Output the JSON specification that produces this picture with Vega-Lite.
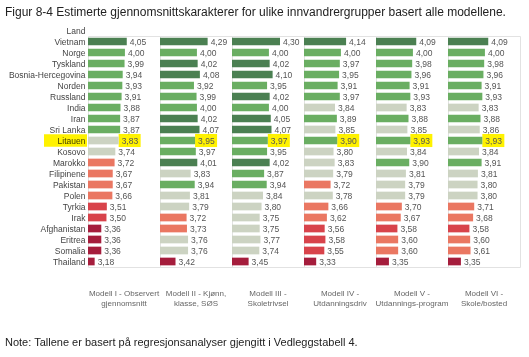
{
  "$schema": "https://vega.github.io/schema/vega-lite/v6.json",
  "padding": {"left": 5, "top": 6, "right": 5, "bottom": 3},
  "background": "white",
  "title": {"text": "Figur 8-4 Estimerte gjennomsnittskarakterer for ulike innvandrergrupper basert alle modellene.", "anchor": "start", "font": "Liberation Sans", "fontSize": 12, "fontWeight": "normal", "color": "#222", "offset": 7},
  "spacing": 29,
  "vconcat": [
    {
      "data": {"values": [
        {"Land": "Vietnam", "I": 4.05, "II": 4.29, "III": 4.30, "IV": 4.14, "V": 4.09, "VI": 4.09},
        {"Land": "Norge", "I": 4.00, "II": 4.00, "III": 4.00, "IV": 4.00, "V": 4.00, "VI": 4.00},
        {"Land": "Tyskland", "I": 3.99, "II": 4.02, "III": 4.02, "IV": 3.97, "V": 3.98, "VI": 3.98},
        {"Land": "Bosnia-Hercegovina", "I": 3.94, "II": 4.08, "III": 4.10, "IV": 3.95, "V": 3.96, "VI": 3.96},
        {"Land": "Norden", "I": 3.93, "II": 3.92, "III": 3.95, "IV": 3.91, "V": 3.91, "VI": 3.91},
        {"Land": "Russland", "I": 3.91, "II": 3.99, "III": 4.02, "IV": 3.97, "V": 3.93, "VI": 3.93},
        {"Land": "India", "I": 3.88, "II": 4.00, "III": 4.00, "IV": 3.84, "V": 3.83, "VI": 3.83},
        {"Land": "Iran", "I": 3.87, "II": 4.02, "III": 4.05, "IV": 3.89, "V": 3.88, "VI": 3.88},
        {"Land": "Sri Lanka", "I": 3.87, "II": 4.07, "III": 4.07, "IV": 3.85, "V": 3.85, "VI": 3.86},
        {"Land": "Litauen", "I": 3.83, "II": 3.95, "III": 3.97, "IV": 3.90, "V": 3.93, "VI": 3.93},
        {"Land": "Kosovo", "I": 3.74, "II": 3.97, "III": 3.95, "IV": 3.80, "V": 3.84, "VI": 3.84},
        {"Land": "Marokko", "I": 3.72, "II": 4.01, "III": 4.02, "IV": 3.83, "V": 3.90, "VI": 3.91},
        {"Land": "Filipinene", "I": 3.67, "II": 3.83, "III": 3.87, "IV": 3.79, "V": 3.81, "VI": 3.81},
        {"Land": "Pakistan", "I": 3.67, "II": 3.94, "III": 3.94, "IV": 3.72, "V": 3.79, "VI": 3.80},
        {"Land": "Polen", "I": 3.66, "II": 3.81, "III": 3.84, "IV": 3.78, "V": 3.79, "VI": 3.80},
        {"Land": "Tyrkia", "I": 3.51, "II": 3.79, "III": 3.80, "IV": 3.66, "V": 3.70, "VI": 3.71},
        {"Land": "Irak", "I": 3.50, "II": 3.72, "III": 3.75, "IV": 3.62, "V": 3.67, "VI": 3.68},
        {"Land": "Afghanistan", "I": 3.36, "II": 3.73, "III": 3.75, "IV": 3.56, "V": 3.58, "VI": 3.58},
        {"Land": "Eritrea", "I": 3.36, "II": 3.76, "III": 3.77, "IV": 3.58, "V": 3.60, "VI": 3.60},
        {"Land": "Somalia", "I": 3.36, "II": 3.76, "III": 3.74, "IV": 3.55, "V": 3.60, "VI": 3.61},
        {"Land": "Thailand", "I": 3.18, "II": 3.42, "III": 3.45, "IV": 3.33, "V": 3.35, "VI": 3.35}
      ]},
      "transform": [{"fold": ["I", "II", "III", "IV", "V", "VI"], "as": ["Modell", "v"]}],
      "bounds": "flush",
      "spacing": 0,
      "facet": {
        "column": {
          "field": "Modell", "type": "nominal", "title": null,
          "sort": ["I", "II", "III", "IV", "V", "VI"],
          "header": {
            "labelOrient": "bottom", "labelPadding": 23, "labelFontSize": 8, "labelColor": "#666",
            "labelFont": "Liberation Sans", "labelLineHeight": 10,
            "labelExpr": "{'I': ['Modell I - Observert', 'gjennomsnitt'], 'II': ['Modell II - Kjønn,', 'klasse, SØS'], 'III': ['Modell III -', 'Skoletrivsel'], 'IV': ['Modell IV -', 'Utdanningsdriv'], 'V': ['Modell V -', 'Utdannings-program'], 'VI': ['Modell VI -', 'Skole/bosted']}[datum.value]"
          }
        }
      },
      "spec": {
        "width": 72,
        "height": 231,
        "encoding": {
          "y": {
            "field": "Land", "type": "nominal",
            "sort": ["Vietnam", "Norge", "Tyskland", "Bosnia-Hercegovina", "Norden", "Russland", "India", "Iran", "Sri Lanka", "Litauen", "Kosovo", "Marokko", "Filipinene", "Pakistan", "Polen", "Tyrkia", "Irak", "Afghanistan", "Eritrea", "Somalia", "Thailand"],
            "scale": {"paddingInner": 0.3, "paddingOuter": 0.15},
            "axis": {
              "title": "Land", "titleAngle": 0, "titleAlign": "right", "titleBaseline": "bottom",
              "titleX": -3, "titleY": -1, "titleFontWeight": "normal", "titleFontSize": 8.5, "titleColor": "#444",
              "titleFont": "Liberation Sans",
              "labelFontSize": 8.5, "labelColor": "#444", "labelFont": "Liberation Sans",
              "ticks": false, "domain": false, "labelPadding": 3, "zindex": 1
            }
          }
        },
        "layer": [
          {
            "transform": [{"filter": "datum.Land == 'Litauen' && datum.Modell == 'I'"}],
            "mark": {"type": "rect", "color": "#fff200", "xOffset": -44, "x2Offset": -1, "height": {"band": 1.6}, "blend": "multiply"},
            "encoding": {
              "x": {"datum": 3, "type": "quantitative", "scale": {"domain": [3, 4.95], "zero": false, "nice": false}, "axis": null},
              "x2": {"datum": 3}
            }
          },
          {
            "transform": [{"filter": "datum.Land == 'Litauen'"}],
            "mark": {"type": "rect", "color": "#fff200", "xOffset": 0, "x2Offset": 22, "height": {"band": 1.7}},
            "encoding": {
              "x": {"field": "v", "type": "quantitative", "scale": {"domain": [3, 4.95], "zero": false, "nice": false}, "axis": null},
              "x2": {"field": "v"}
            }
          },
          {
            "mark": {"type": "bar"},
            "encoding": {
              "x": {"field": "v", "type": "quantitative", "scale": {"domain": [3, 4.95], "zero": false, "nice": false}, "axis": null},
              "x2": {"datum": 3},
              "color": {
                "field": "v", "type": "quantitative", "legend": null,
                "scale": {"type": "threshold", "domain": [3.46, 3.6, 3.74, 3.865, 4.005], "range": ["#a51d3c", "#d8434b", "#ea7762", "#ccd3c2", "#6aae62", "#4b8052"]}
              }
            }
          },
          {
            "mark": {"type": "text", "align": "left", "baseline": "middle", "dx": 3, "fontSize": 8.5, "color": "#555", "font": "Liberation Sans"},
            "encoding": {
              "x": {"field": "v", "type": "quantitative", "scale": {"domain": [3, 4.95], "zero": false, "nice": false}, "axis": null},
              "text": {"field": "v", "type": "quantitative", "format": ".2f"}
            }
          }
        ]
      }
    },
    {
      "width": 400,
      "height": 1,
      "data": {"values": []},
      "mark": {"type": "point", "opacity": 0},
      "encoding": {},
      "view": {"stroke": null},
      "title": {"text": "Note: Tallene er basert på regresjonsanalyser gjengitt i Vedleggstabell 4.", "anchor": "start", "fontSize": 11, "fontWeight": "normal", "font": "Liberation Sans", "color": "#222", "offset": 0, "dx": -83}
    }
  ],
  "config": {
    "view": {"stroke": "#e2e2e2"},
    "font": "Liberation Sans",
    "locale": {"number": {"decimal": ",", "thousands": " ", "grouping": [3], "currency": ["", " kr"]}}
  }
}
